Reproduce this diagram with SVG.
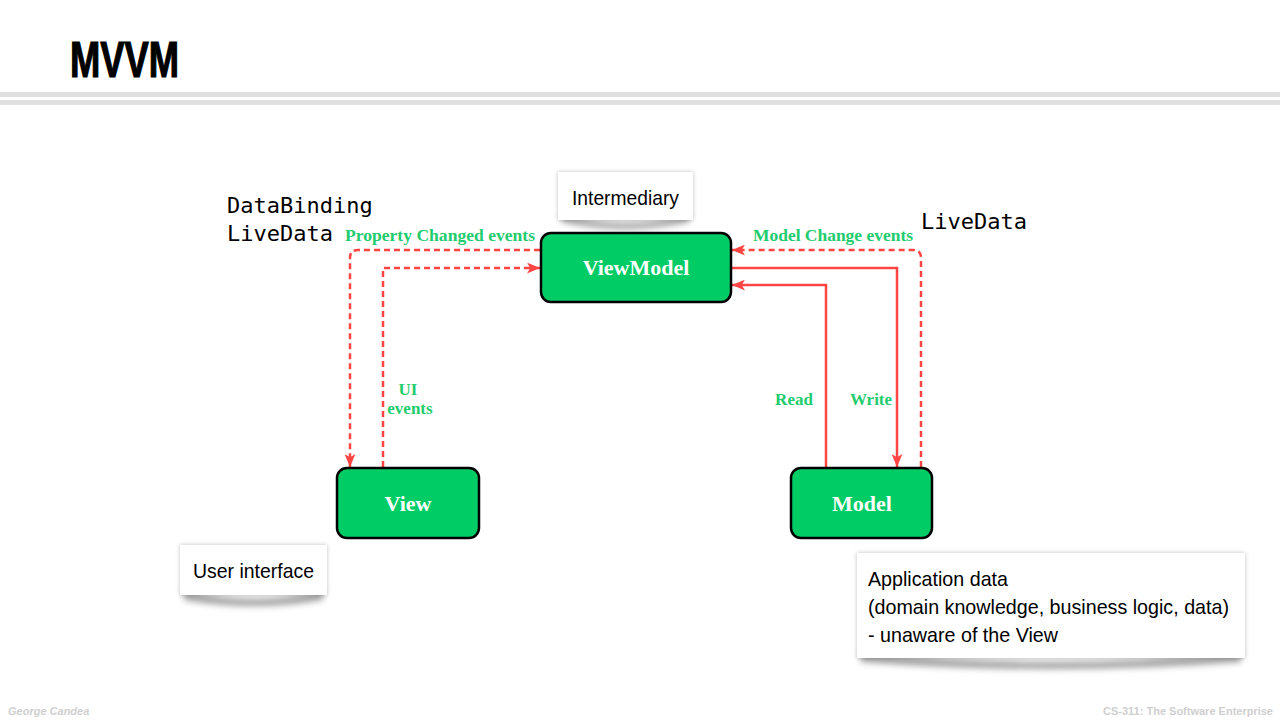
<svg xmlns="http://www.w3.org/2000/svg" width="1280" height="720" viewBox="0 0 1280 720">
<defs>
  <style>
    .node rect { fill: #00cc66; stroke: #000; stroke-width: 2.5; }
    .nlabel { font-family: "Liberation Serif", "Times New Roman", serif; font-weight: bold; font-size: 22px; fill: #ffffff; text-anchor: middle; }
    .conn { fill: none; stroke: #ff4444; stroke-width: 2.5; }
    .dash { stroke-dasharray: 6 4; }
    .glabel { font-family: "Liberation Serif", "Times New Roman", serif; font-weight: bold; font-size: 17px; fill: #22cc6e; }
    .mono { font-family: "DejaVu Sans Mono", "Liberation Mono", monospace; font-size: 22px; fill: #000; }
    .note { font-family: "Liberation Sans", Arial, sans-serif; font-size: 21px; fill: #000; }
    .callout { fill: #ffffff; }
    .foot { font-family: "Liberation Sans", Arial, sans-serif; font-size: 11px; font-weight: bold; fill: #cfcfcf; }
  </style>
  <marker id="arrow" viewBox="0 0 12 10" refX="12" refY="5" markerWidth="13" markerHeight="11" markerUnits="userSpaceOnUse" orient="auto">
    <path d="M0,0 L12,5 L0,10 L3,5 Z" fill="#ff4444"/>
  </marker>
  <filter id="soft" x="-10%" y="-20%" width="120%" height="160%">
    <feGaussianBlur stdDeviation="3"/>
  </filter>
  <filter id="side" x="-10%" y="-10%" width="120%" height="130%">
    <feDropShadow dx="0" dy="0" stdDeviation="2" flood-color="#000" flood-opacity="0.25"/>
  </filter>
</defs>

<rect x="0" y="0" width="1280" height="720" fill="#ffffff"/>

<!-- Title -->
<text x="70" y="77" font-family="Liberation Sans, Arial, sans-serif" font-weight="bold" font-size="50" fill="#000" stroke="#000" stroke-width="1.2" textLength="109" lengthAdjust="spacingAndGlyphs">MVVM</text>
<rect x="0" y="92" width="1280" height="5" fill="#e0e0e0"/>
<rect x="0" y="100" width="1280" height="5" fill="#e0e0e0"/>

<!-- Side labels -->
<text class="mono" x="227" y="213">DataBinding</text>
<text class="mono" x="227" y="241">LiveData</text>
<text class="mono" x="921" y="229">LiveData</text>

<!-- Connectors -->
<g id="connectors">
  <path class="conn dash" d="M540,250 H358 Q350,250 350,258 V467" marker-end="url(#arrow)"/>
  <path class="conn dash" d="M383,467 V268 H540" marker-end="url(#arrow)"/>
  <path class="conn" d="M732,268 H897 V467" marker-end="url(#arrow)"/>
  <path class="conn" d="M826,467 V285 H732" marker-end="url(#arrow)"/>
  <path class="conn dash" d="M921,467 V258 Q921,250 913,250 H732" marker-end="url(#arrow)"/>
  <text class="glabel" x="345" y="241" textLength="190" lengthAdjust="spacingAndGlyphs">Property Changed events</text>
  <text class="glabel" x="753" y="241" textLength="160" lengthAdjust="spacingAndGlyphs">Model Change events</text>
  <text class="glabel" x="408" y="395" text-anchor="middle">UI</text>
  <text class="glabel" x="410" y="414" text-anchor="middle">events</text>
  <text class="glabel" x="794" y="405" text-anchor="middle">Read</text>
  <text class="glabel" x="871" y="405" text-anchor="middle">Write</text>
</g>

<!-- Nodes -->
<g id="viewmodel" class="node">
  <rect x="541" y="233" width="190" height="69" rx="10"/>
  <text class="nlabel" x="636" y="275">ViewModel</text>
</g>
<g id="view" class="node">
  <rect x="337" y="468" width="142" height="70" rx="10"/>
  <text class="nlabel" x="408" y="511">View</text>
</g>
<g id="model" class="node">
  <rect x="791" y="468" width="141" height="70" rx="10"/>
  <text class="nlabel" x="862" y="511">Model</text>
</g>

<!-- Callouts -->
<g id="intermediary">
  <path d="M562,214 Q625,232 689,214 L689,222 Q625,236 562,222 Z" fill="#555" opacity="0.55" filter="url(#soft)"/>
  <rect class="callout" x="558" y="172" width="135" height="48" filter="url(#side)"/>
  <rect class="callout" x="558" y="172" width="135" height="48"/>
  <text class="note" x="572" y="205" textLength="107" lengthAdjust="spacingAndGlyphs">Intermediary</text>
</g>
<g id="userinterface">
  <path d="M184,590 Q254,608 323,590 L323,600 Q254,612 184,600 Z" fill="#555" opacity="0.55" filter="url(#soft)"/>
  <rect class="callout" x="180" y="545" width="147" height="50" filter="url(#side)"/>
  <rect class="callout" x="180" y="545" width="147" height="50"/>
  <text class="note" x="193" y="578" textLength="121" lengthAdjust="spacingAndGlyphs">User interface</text>
</g>
<g id="appdata">
  <path d="M861,652 Q1051,672 1241,652 L1241,662 Q1051,676 861,662 Z" fill="#555" opacity="0.55" filter="url(#soft)"/>
  <rect class="callout" x="857" y="553" width="388" height="105" filter="url(#side)"/>
  <rect class="callout" x="857" y="553" width="388" height="105"/>
  <text class="note" x="868" y="586" textLength="140" lengthAdjust="spacingAndGlyphs">Application data</text>
  <text class="note" x="868" y="614" textLength="361" lengthAdjust="spacingAndGlyphs">(domain knowledge, business logic, data)</text>
  <text class="note" x="868" y="642" textLength="190" lengthAdjust="spacingAndGlyphs">- unaware of the View</text>
</g>

<!-- Footer -->
<text class="foot" x="8" y="715" font-style="italic">George Candea</text>
<text class="foot" x="1273" y="715" text-anchor="end">CS-311: The Software Enterprise</text>
</svg>
